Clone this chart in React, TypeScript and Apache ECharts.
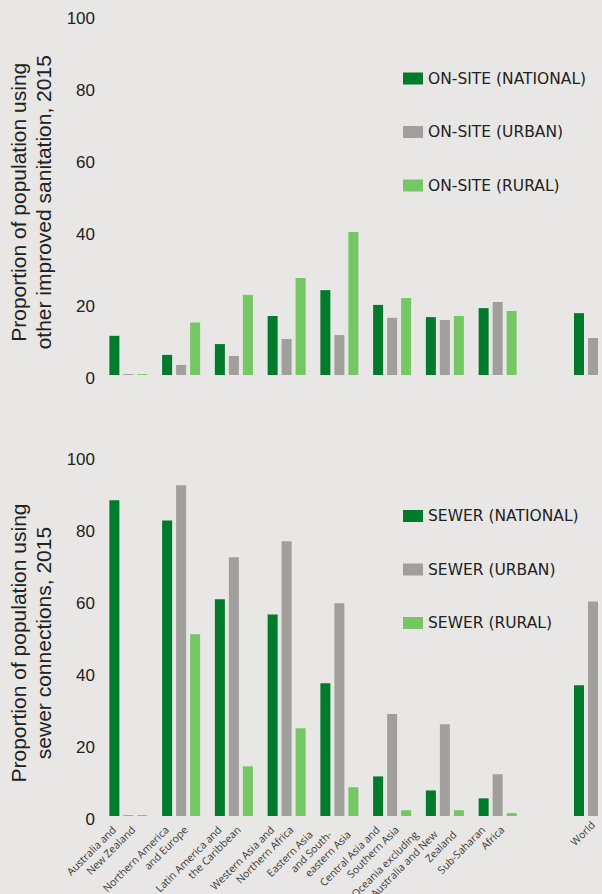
import React, { useEffect, useRef } from "react";
import * as echarts from "echarts";

const regions = [
  "Australia and\nNew Zealand",
  "Northern America\nand Europe",
  "Latin America and\nthe Caribbean",
  "Western Asia and\nNorthern Africa",
  "Eastern Asia\nand South-\neastern Asia",
  "Central Asia and\nSouthern Asia",
  "Oceania excluding\nAustralia and New\nZealand",
  "Sub-Saharan\nAfrica",
];
const worldCategory = ["World"];

const yTicks = [0, 20, 40, 60, 80, 100];

const onsiteNational = [10.9, 5.6, 8.6, 16.4, 23.6, 19.5, 16.1, 18.6];
const onsiteUrban = [0.25, 2.8, 5.3, 10.0, 11.1, 15.9, 15.3, 20.3];
const onsiteRural = [0.25, 14.6, 22.3, 27.0, 39.8, 21.4, 16.4, 17.8];
const onsiteWorldNational = [17.2];
const onsiteWorldUrban = [10.3];

const sewerNational = [87.7, 82.1, 60.2, 56.0, 36.9, 11.0, 7.1, 4.9];
const sewerUrban = [0.25, 91.9, 71.9, 76.3, 59.1, 28.3, 25.5, 11.6];
const sewerRural = [0.25, 50.5, 13.8, 24.4, 8.0, 1.6, 1.6, 0.8];
const sewerWorldNational = [36.3];
const sewerWorldUrban = [59.6];

const onsiteNames = ["ON-SITE (NATIONAL)", "ON-SITE (URBAN)", "ON-SITE (RURAL)"];
const sewerNames = ["SEWER (NATIONAL)", "SEWER (URBAN)", "SEWER (RURAL)"];

const C_NAT = "#007a2b";
const C_URB = "#a09f9b";
const C_RUR = "#74c763";
const BG = "#e8e7e5";
const SANS = "'Liberation Sans', Arial, sans-serif";
const LABEL_LH = 13.5;
const LABEL_FS = 10.5;

export default function App() {
  const ref = useRef<HTMLDivElement>(null);
  useEffect(() => {
    if (!ref.current) return;
    const chart = echarts.init(ref.current, undefined, { renderer: "svg" });

    const regionLeft = 102;
    const regionWidth = 422;
    const worldCenter = 593;
    const worldHalf = 9;

    const grids = [
      { left: regionLeft, width: regionWidth, top: 15.5, height: 359.5 },
      { left: worldCenter - worldHalf, width: worldHalf * 2, top: 15.5, height: 359.5 },
      { left: regionLeft, width: regionWidth, top: 456, height: 360 },
      { left: worldCenter - worldHalf, width: worldHalf * 2, top: 456, height: 360 },
    ].map((g) => ({ ...g, containLabel: false, outerBoundsMode: "none" }));

    const lineStyle = (k: number) => ({
      fontSize: LABEL_FS,
      lineHeight: LABEL_LH,
      fontFamily: "'Open Sans', sans-serif",
      color: "#3a3a3a",
      padding: [0, k * LABEL_LH, 0, 0],
    });

    const xLabel = {
      rotate: 45,
      interval: 0,
      fontSize: LABEL_FS,
      lineHeight: LABEL_LH,
      fontFamily: "'Open Sans', sans-serif",
      color: "#3a3a3a",
      margin: 7,
      formatter: (value: string) => {
        const lines = value.split("\n");
        const n = lines.length;
        return lines.map((l, k) => `{p${n - 1 - k}|${l}}`).join("\n");
      },
      rich: { p0: lineStyle(0), p1: lineStyle(1), p2: lineStyle(2) },
    };

    const xAxes = grids.map((g, i) => ({
      type: "category" as const,
      gridIndex: i,
      data: i % 2 === 0 ? regions : worldCategory,
      axisLine: { show: false },
      axisTick: { show: false },
      axisLabel: i >= 2 ? xLabel : { show: false },
    }));

    const yName = (text: string) => ({
      name: text,
      nameLocation: "middle" as const,
      nameRotate: 90,
      nameGap: 45,
      nameTextStyle: {
        fontSize: 21,
        lineHeight: 25,
        fontFamily: SANS,
        color: "#222",
        padding: [0, 14, 0, 0],
      },
    });

    const yAxes = grids.map((g, i) => ({
      type: "value" as const,
      gridIndex: i,
      min: yTicks[0],
      max: yTicks[yTicks.length - 1],
      interval: 20,
      show: i % 2 === 0,
      splitLine: { show: false },
      axisLine: { show: false },
      axisTick: { show: false },
      axisLabel: {
        margin: 7,
        formatter: "{v|{value}}",
        rich: {
          v: {
            fontSize: 17,
            fontFamily: SANS,
            color: "#222",
            padding: [6, 0, 0, 0],
          },
        },
      },
      ...(i === 0
        ? yName("Proportion of population using\nother improved sanitation, 2015")
        : i === 2
        ? yName("Proportion of population using\nsewer connections, 2015")
        : {}),
    }));

    const bar = (name: string, data: number[], idx: number, color: string, offset = 0) => ({
      type: "bar" as const,
      name,
      data,
      xAxisIndex: idx,
      yAxisIndex: idx,
      barWidth: 10,
      barGap: "40%",
      clip: false,
      itemStyle: { color },
    });

    const series = [
      bar(onsiteNames[0], onsiteNational, 0, C_NAT),
      bar(onsiteNames[1], onsiteUrban, 0, C_URB),
      bar(onsiteNames[2], onsiteRural, 0, C_RUR),
      bar(onsiteNames[0], onsiteWorldNational, 1, C_NAT),
      bar(onsiteNames[1], onsiteWorldUrban, 1, C_URB),
      bar(onsiteNames[2], [], 1, C_RUR),
      bar(sewerNames[0], sewerNational, 2, C_NAT),
      bar(sewerNames[1], sewerUrban, 2, C_URB),
      bar(sewerNames[2], sewerRural, 2, C_RUR),
      bar(sewerNames[0], sewerWorldNational, 3, C_NAT),
      bar(sewerNames[1], sewerWorldUrban, 3, C_URB),
      bar(sewerNames[2], [], 3, C_RUR),
    ];

    const legend = (names: string[], top: number) => ({
      data: names,
      orient: "vertical" as const,
      left: 403,
      top,
      padding: 0,
      itemWidth: 20,
      itemHeight: 12,
      itemGap: 35.5,
      icon: "rect",
      selectedMode: false,
      textStyle: {
        fontSize: 15.5,
        lineHeight: 18,
        fontFamily: "'DejaVu Sans', sans-serif",
        color: "#222",
      },
    });

    chart.setOption({
      animation: false,
      backgroundColor: BG,
      grid: grids,
      xAxis: xAxes,
      yAxis: yAxes,
      legend: [legend(onsiteNames, 69.5), legend(sewerNames, 507)],
      series,
    });
    return () => chart.dispose();
  }, []);

  return (
    <div
      ref={ref}
      style={{ position: "fixed", left: 0, top: 0, width: 602, height: 894, background: BG }}
    />
  );
}
